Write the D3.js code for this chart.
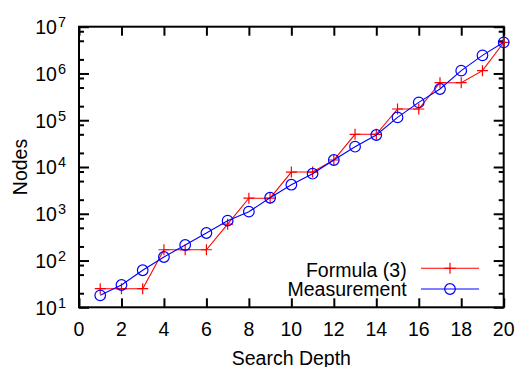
<!DOCTYPE html>
<html>
<head>
<meta charset="utf-8">
<script src="https://cdn.jsdelivr.net/npm/d3@7"></script>
<style>
  body { margin: 0; background: #fff; }
  text { font-family: "Liberation Sans", Arial, sans-serif; }
</style>
</head>
<body>
<script>
// search depth values
const depth = [1, 2, 3, 4, 5, 6, 7, 8, 9, 10, 11, 12, 13, 14, 15, 16, 17, 18, 19, 20];
// "Formula (3)" - red pluses
const formula = [25, 25, 25, 170, 170, 170, 600, 2150, 2150, 7800, 7800, 14100,
  50000, 50000, 174000, 174000, 635000, 635000, 1150000, 4600000];
// "Measurement" - blue circles
const measurement = [18, 30, 62, 119, 215, 388, 711, 1110, 2200, 4180, 7190, 14100,
  27200, 48300, 115000, 241000, 466000, 1150000, 2440000, 4630000];

const xTicks = [0, 2, 4, 6, 8, 10, 12, 14, 16, 18, 20];
const yExps = [1, 2, 3, 4, 5, 6, 7];
const minorMult = [2, 5, 8];

const W = 519, H = 367;
const mLeft = 79, mRight = 503.7, mTop = 26.7, mBottom = 307.3;

const svg = d3.select("body").append("svg")
  .attr("width", W)
  .attr("height", H);

const x = d3.scaleLinear().domain([0, 20]).range([mLeft, mRight]);
const y = d3.scaleLog().domain([10, 1e7]).range([mBottom, mTop]);

const majorY = yExps.map(e => Math.pow(10, e));
let minorY = [];
yExps.forEach(e => {
  minorMult.forEach(m => {
    const v = m * Math.pow(10, e);
    if (v < 1e7) minorY.push(v);
  });
});

// ticks (inward, mirrored)
function axisStyle(g) {
  g.select(".domain").remove();
  g.selectAll("line").attr("stroke", "#000").attr("stroke-width", 2);
  g.selectAll("text").remove();
}
svg.append("g").attr("transform", `translate(0,${mBottom})`)
  .call(d3.axisBottom(x).tickValues(xTicks).tickSize(-9)).call(axisStyle);
svg.append("g").attr("transform", `translate(0,${mTop})`)
  .call(d3.axisTop(x).tickValues(xTicks).tickSize(-9)).call(axisStyle);
svg.append("g").attr("transform", `translate(${mLeft},0)`)
  .call(d3.axisLeft(y).tickValues(majorY).tickSize(-10)).call(axisStyle);
svg.append("g").attr("transform", `translate(${mRight},0)`)
  .call(d3.axisRight(y).tickValues(majorY).tickSize(-10)).call(axisStyle);
svg.append("g").attr("transform", `translate(${mLeft},0)`)
  .call(d3.axisLeft(y).tickValues(minorY).tickSize(-5)).call(axisStyle);
svg.append("g").attr("transform", `translate(${mRight},0)`)
  .call(d3.axisRight(y).tickValues(minorY).tickSize(-5)).call(axisStyle);

// border
svg.append("rect")
  .attr("x", mLeft).attr("y", mTop)
  .attr("width", mRight - mLeft).attr("height", mBottom - mTop)
  .attr("fill", "none").attr("stroke", "#000").attr("stroke-width", 2);

// x tick labels
svg.selectAll(".xl").data(xTicks).enter().append("text")
  .attr("x", d => x(d)).attr("y", 336)
  .attr("text-anchor", "middle")
  .attr("font-size", 19.5)
  .text(d => d);

// y tick labels with superscripts
const yl = svg.selectAll(".yl").data(yExps).enter().append("text")
  .attr("x", 66).attr("y", d => y(Math.pow(10, d)) + 7.3)
  .attr("text-anchor", "end")
  .attr("font-size", 19.5);
yl.append("tspan").text("10");
yl.append("tspan").attr("dy", -7).attr("dx", 1).attr("font-size", 14.5).text(d => d);

// axis titles
svg.append("text")
  .attr("x", (mLeft + mRight) / 2).attr("y", 365)
  .attr("text-anchor", "middle").attr("font-size", 19.5)
  .text("Search Depth");
svg.append("text")
  .attr("transform", `translate(26.5,${(mTop + mBottom) / 2}) rotate(-90)`)
  .attr("text-anchor", "middle").attr("font-size", 19.5)
  .text("Nodes");

const pts = depth.map((d, i) => ({ d, f: formula[i], m: measurement[i] }));

const plus = (g, cx, cy) => {
  g.append("path")
    .attr("d", `M${cx - 5.5},${cy}H${cx + 5.5}M${cx},${cy - 5.5}V${cy + 5.5}`)
    .attr("stroke", "#ff0000").attr("stroke-width", 1.2).attr("fill", "none");
};

// Formula (3)
svg.append("path").datum(pts)
  .attr("fill", "none").attr("stroke", "#ff0000").attr("stroke-width", 1.1)
  .attr("d", d3.line().x(p => x(p.d)).y(p => y(p.f)));
const gf = svg.append("g");
pts.forEach(p => plus(gf, x(p.d), y(p.f)));

// Measurement
svg.append("path").datum(pts)
  .attr("fill", "none").attr("stroke", "#0000ff").attr("stroke-width", 1.1)
  .attr("d", d3.line().x(p => x(p.d)).y(p => y(p.m)));
svg.append("g").selectAll("circle").data(pts).enter().append("circle")
  .attr("cx", p => x(p.d)).attr("cy", p => y(p.m)).attr("r", 5.3)
  .attr("fill", "none").attr("stroke", "#0000ff").attr("stroke-width", 1.2);

// legend
const legend = [
  { name: "Formula (3)", color: "#ff0000", ly: 268.3, ty: 276.5 },
  { name: "Measurement", color: "#0000ff", ly: 289, ty: 295.5 }
];
legend.forEach(l => {
  svg.append("text")
    .attr("x", 406.7).attr("y", l.ty)
    .attr("text-anchor", "end").attr("font-size", 19.5)
    .text(l.name);
  svg.append("line")
    .attr("x1", 421).attr("x2", 479).attr("y1", l.ly).attr("y2", l.ly)
    .attr("stroke", l.color).attr("stroke-width", 1.1);
});
plus(svg, 450, legend[0].ly);
svg.append("circle").attr("cx", 450).attr("cy", legend[1].ly).attr("r", 5.3)
  .attr("fill", "none").attr("stroke", "#0000ff").attr("stroke-width", 1.2);
</script>
</body>
</html>
